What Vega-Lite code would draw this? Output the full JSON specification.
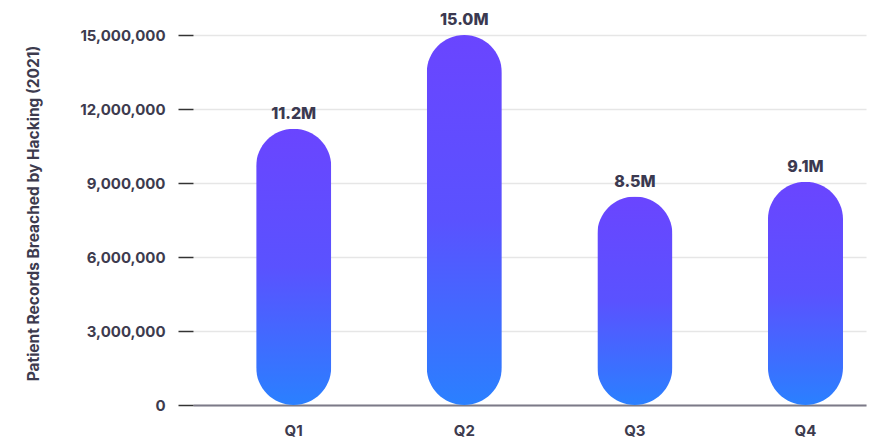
{
  "$schema": "https://vega.github.io/schema/vega-lite/v6.json",
  "width": 673,
  "height": 370,
  "autosize": "none",
  "padding": {"left": 193, "top": 35, "right": 3, "bottom": 34},
  "data": {
    "values": [
      {"quarter": "Q1", "value": 11200000, "label": "11.2M"},
      {"quarter": "Q2", "value": 15000000, "label": "15.0M"},
      {"quarter": "Q3", "value": 8450000, "label": "8.5M"},
      {"quarter": "Q4", "value": 9050000, "label": "9.1M"}
    ]
  },
  "config": {"view": {"stroke": null}, "font": "Inter"},
  "encoding": {
    "x": {
      "field": "quarter",
      "type": "nominal",
      "sort": null,
      "scale": {"paddingInner": 0.56, "paddingOuter": 0.2525, "align": 0.733},
      "axis": {
        "title": null,
        "labelAngle": 0,
        "ticks": false,
        "labelFontSize": 15,
        "labelFontWeight": "bold",
        "labelColor": "#3d3b4e",
        "labelPadding": 18,
        "domainColor": "#7c7a88",
        "domainWidth": 2
      }
    }
  },
  "layer": [
    {
      "mark": {
        "type": "bar",
        "cornerRadius": 37.5,
        "color": {
          "gradient": "linear",
          "x1": 0, "y1": 0, "x2": 0, "y2": 1,
          "stops": [
            {"offset": 0, "color": "#6a45ff"},
            {"offset": 0.5, "color": "#5a52ff"},
            {"offset": 1, "color": "#2a80ff"}
          ]
        }
      },
      "encoding": {
        "y": {
          "field": "value",
          "type": "quantitative",
          "scale": {"domain": [0, 15000000], "nice": false},
          "axis": {
            "values": [0, 3000000, 6000000, 9000000, 12000000, 15000000],
            "format": ",d",
            "domain": false,
            "tickSize": 15,
            "tickColor": "#333333",
            "tickWidth": 1.5,
            "gridColor": "#e6e6e6",
            "gridWidth": 1.5,
            "labelFontSize": 15,
            "labelFontWeight": "bold",
            "labelColor": "#3d3b4e",
            "labelPadding": 13,
            "title": "Patient Records Breached by Hacking (2021)",
            "titleFontSize": 15.5,
            "titleFontWeight": "bold",
            "titleColor": "#3d3b4e",
            "titleX": -160,
            "titleY": 178,
            "titleBaseline": "middle",
            "titleAlign": "center"
          }
        }
      }
    },
    {
      "mark": {
        "type": "text",
        "dy": -10,
        "baseline": "alphabetic",
        "fontSize": 16,
        "fontWeight": 800,
        "color": "#3b3950"
      },
      "encoding": {
        "y": {"field": "value", "type": "quantitative"},
        "text": {"field": "label"}
      }
    }
  ]
}
